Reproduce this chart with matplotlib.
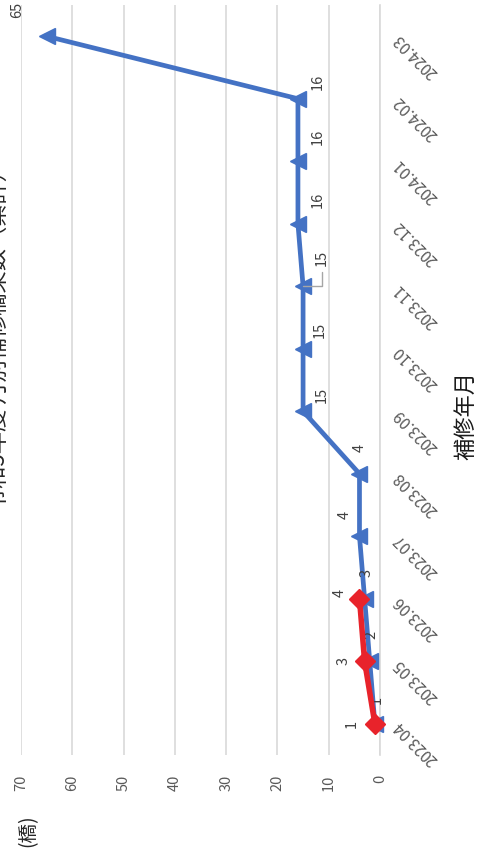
import matplotlib.pyplot as plt

plt.rcParams['font.family'] = ['Noto Sans CJK JP', 'DejaVu Sans']

# data
months = ['2023.04', '2023.05', '2023.06', '2023.07', '2023.08', '2023.09',
          '2023.10', '2023.11', '2023.12', '2024.01', '2024.02', '2024.03']
blue_vals = [1, 2, 3, 4, 4, 15, 15, 15, 16, 16, 16, 65]
red_months = ['2023.04', '2023.05', '2023.06']
red_vals = [1, 3, 4]
value_ticks = [0, 10, 20, 30, 40, 50, 60, 70]

# label offsets in pixels (layout only)
blue_offsets = [(2, 24), (2, 26), (2, 26), (-15, 21), (0, 26), (19, 16),
                (17, 19), (19, 28), (20, 24), (20, 24), (20, 17), (-30, 26)]
red_offsets = [(-23, 0), (-21, 0), (-20, 6)]

BLUE = '#4472C4'
RED = '#E8232B'
GRID = '#D9D9D9'
TICK = '#595959'

fig = plt.figure(figsize=(4.8, 8.61), dpi=100)
ax = fig.add_axes([21 / 480, 1 - 755 / 861, (380 - 21) / 480, 750 / 861])

pos = list(range(len(months)))
red_pos = [months.index(m) for m in red_months]

ax.plot(blue_vals, pos, color=BLUE, lw=3.4, marker='<', ms=12,
        markeredgecolor=BLUE, zorder=3, clip_on=False)
ax.plot(red_vals, red_pos, color=RED, lw=4, marker='D', ms=10,
        markeredgecolor=RED, zorder=4, clip_on=False)

for i, (v, off) in enumerate(zip(blue_vals, blue_offsets)):
    if months[i] == '2023.11':
        # this label was dragged away, so it gets a leader line
        ax.annotate(str(v), xy=(v, i), xytext=off, textcoords='offset pixels',
                    rotation=90, ha='center', va='center', fontsize=10.5, color='#404040',
                    annotation_clip=False,
                    arrowprops=dict(arrowstyle='-', color='#A6A6A6', lw=1,
                                    connectionstyle='angle,angleA=90,angleB=0',
                                    shrinkA=2, shrinkB=0))
    else:
        ax.annotate(str(v), xy=(v, i), xytext=off, textcoords='offset pixels',
                    rotation=90, ha='center', va='center', fontsize=10.5, color='#404040',
                    annotation_clip=False)

for p, v, off in zip(red_pos, red_vals, red_offsets):
    ax.annotate(str(v), xy=(v, p), xytext=off, textcoords='offset pixels',
                rotation=90, ha='center', va='center', fontsize=10.5, color='#404040',
                annotation_clip=False)

ax.set_xlim(70, 0)
ax.set_ylim(-0.5, len(months) - 0.5)

ax.set_xticks(value_ticks)
ax.set_xticklabels([str(t) for t in value_ticks], rotation=90, va='top', ha='center',
                   fontsize=10.5, color=TICK)
ax.tick_params(axis='x', length=0, pad=14)

ax.yaxis.tick_right()
ax.set_yticks(pos)
ax.set_yticklabels(months, rotation=135, ha='right', va='center',
                   rotation_mode='anchor', fontsize=11, color=TICK)
ax.tick_params(axis='y', length=0, pad=12)

ax.grid(True, axis='x', color=GRID, lw=1.2)
ax.set_axisbelow(True)
for s in ['top', 'bottom', 'left']:
    ax.spines[s].set_visible(False)
ax.spines['right'].set_color(GRID)
ax.spines['right'].set_linewidth(1.2)

# axis titles
fig.text(466 / 480, 1 - 415 / 861, '補修年月', rotation=90, ha='center', va='center',
         fontsize=16, color='#1a1a1a')
fig.text(28 / 480, 1 - 831 / 861, '(橋)', rotation=90, ha='center', va='center',
         fontsize=14, color='#262626')
# chart title, mostly cut off at the left edge like the reference
fig.text(-2 / 480, 1 - 335 / 861, '令和5年度 月別補修橋梁数（累計）', rotation=90,
         ha='center', va='center', fontsize=16, color='#262626')

fig.savefig('out.png', dpi=100)
